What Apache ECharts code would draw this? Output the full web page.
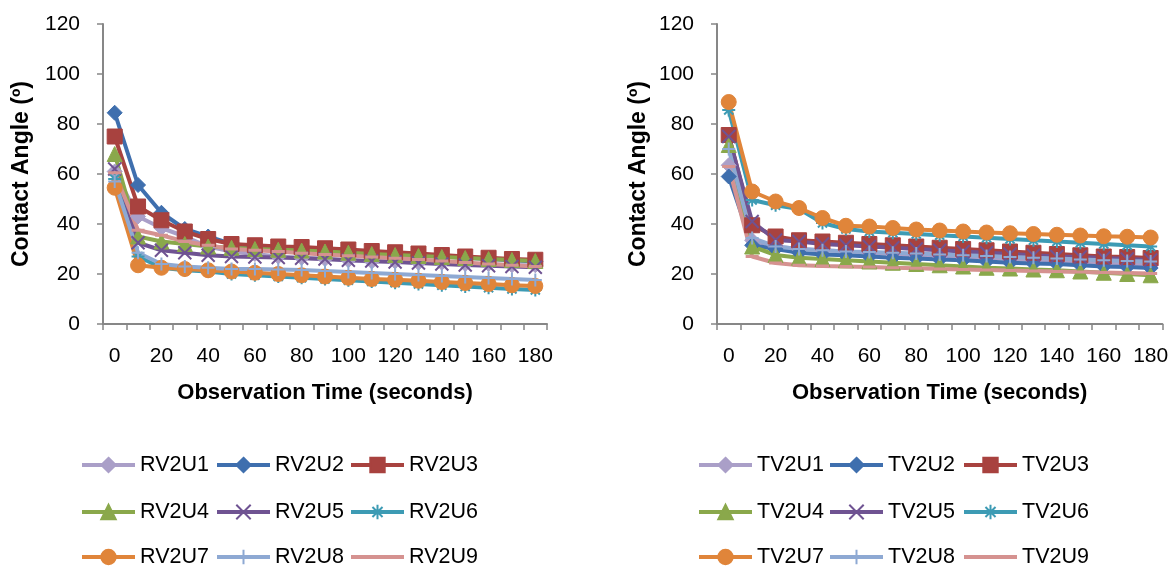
<!DOCTYPE html>
<html>
<head>
<meta charset="utf-8">
<script src="https://cdn.jsdelivr.net/npm/echarts@6/dist/echarts.min.js"></script>
<style>
  html, body { margin: 0; padding: 0; background: #fff; }
  #chart { width: 1171px; height: 572px; }
</style>
</head>
<body>
<div id="chart"></div>
<script>
// observation times (seconds)
const times = ["0", "10", "20", "30", "40", "50", "60", "70", "80", "90", "100", "110", "120", "130", "140", "150", "160", "170", "180"];
const yTicks = [0, 20, 40, 60, 80, 100, 120];

// left panel: RV2 samples
const rvNames = ["RV2U1", "RV2U2", "RV2U3", "RV2U4", "RV2U5", "RV2U6", "RV2U7", "RV2U8", "RV2U9"];
const rv2u1 = [61, 43, 38.4, 35, 31, 29, 28, 27, 26.5, 26, 25.5, 25, 25, 24.5, 24.5, 24, 24, 23.5, 23.5];
const rv2u2 = [84.5, 55.6, 44.5, 38, 35, 32, 31, 30.5, 30, 29.5, 29, 28.5, 28, 27.5, 27, 26.5, 26, 25.5, 25];
const rv2u3 = [75, 47, 41.5, 37, 34, 32, 31.5, 31, 30.8, 30.3, 29.8, 29.2, 28.7, 28.2, 27.6, 27, 26.5, 26, 25.7];
const rv2u4 = [68, 35, 33, 32, 31, 30.5, 30, 29.7, 29.4, 29, 28.5, 28, 27.6, 27.2, 26.8, 26.4, 26, 25.6, 25.2];
const rv2u5 = [62, 32.5, 29.5, 28.5, 27.5, 27, 26.8, 26.6, 26.3, 26, 25.5, 25.2, 24.8, 24.4, 24, 23.6, 23.3, 23, 22.7];
const rv2u6 = [58, 27, 22.5, 21.5, 21, 20, 19.5, 19, 18.5, 18, 17.5, 17, 16.5, 16, 15.5, 15, 14.5, 14, 13.6];
const rv2u7 = [54.5, 23.5, 22.5, 22, 21.5, 21, 20.5, 20, 19.5, 19, 18.5, 18, 17.7, 17.3, 16.8, 16.4, 16, 15.5, 15.2];
const rv2u8 = [57, 28.5, 24, 23, 22.5, 22, 22, 21.8, 21.6, 21.2, 20.8, 20.4, 20, 19.6, 19.2, 18.8, 18.4, 18, 17.6];
const rv2u9 = [60.5, 37.5, 35.5, 33, 31.5, 30, 29.5, 29, 28.3, 27.8, 27.3, 26.8, 26.3, 25.8, 25.2, 24.6, 24, 23.5, 23];

// right panel: TV2 samples
const tvNames = ["TV2U1", "TV2U2", "TV2U3", "TV2U4", "TV2U5", "TV2U6", "TV2U7", "TV2U8", "TV2U9"];
const tv2u1 = [63.5, 33.5, 31, 30, 29.5, 29, 28.5, 28, 27.5, 27, 26.8, 26.5, 26, 25.5, 25.2, 25, 24.5, 24, 23.5];
const tv2u2 = [59, 31.5, 30, 28.5, 27.8, 27.5, 27, 26.5, 26.2, 25.8, 25.5, 25, 24.5, 24.2, 24, 23.5, 23, 22.8, 22.4];
const tv2u3 = [75.6, 39.5, 35, 33.5, 33, 32.5, 32, 31.5, 31, 30.5, 30, 29.5, 29, 28.5, 28, 27.5, 27, 26.8, 26.4];
const tv2u4 = [71.6, 31, 27.6, 26.5, 26, 25.5, 25, 24.5, 24, 23.5, 23, 22.5, 22.2, 21.8, 21.5, 21, 20.5, 20, 19.5];
const tv2u5 = [75, 41, 33.6, 33, 32, 31.5, 31, 30.5, 30, 29.5, 29, 28.5, 28, 27.5, 27, 26.8, 26.4, 26, 25.6];
const tv2u6 = [85.6, 49.6, 47.5, 46, 40.4, 38, 37, 36.5, 36, 35.5, 35, 34.5, 34, 33.5, 33, 32.5, 32, 31.5, 31];
const tv2u7 = [88.8, 53, 49, 46.4, 42.4, 39.3, 39, 38.4, 37.8, 37.4, 37, 36.6, 36.3, 36, 35.7, 35.4, 35.1, 34.9, 34.6];
const tv2u8 = [70, 34.4, 31, 30, 29.5, 29, 28.8, 28.5, 28.2, 27.8, 27.5, 27.2, 26.8, 26.5, 26.2, 25.8, 25.5, 25.2, 25];
const tv2u9 = [63, 27, 24.4, 23.5, 23.2, 23, 22.8, 22.5, 22.3, 22, 21.8, 21.6, 21.4, 21.2, 21, 20.8, 20.6, 20.4, 20.2];

const rvData = [rv2u1, rv2u2, rv2u3, rv2u4, rv2u5, rv2u6, rv2u7, rv2u8, rv2u9];
const tvData = [tv2u1, tv2u2, tv2u3, tv2u4, tv2u5, tv2u6, tv2u7, tv2u8, tv2u9];

// excel-ish palette and markers, one per sample number
const colors = ["#AA9FC8", "#3F6FAE", "#A8423F", "#8AA84B", "#6F5392", "#3D9BB4", "#E0853A", "#8EA9D3", "#D59290"];
const symbols = [
  "diamond", "diamond", "rect", "triangle",
  "path://M0,0L10,10M10,0L0,10",
  "path://M5,0L5,10M0,5L10,5M1.5,1.5L8.5,8.5M8.5,1.5L1.5,8.5",
  "circle",
  "path://M5,0L5,10M0,5L10,5",
  // short dash; two tiny corner specks keep the box square so it isn't stretched
  "path://M0,0L0.01,0L0,0.01Z M9.99,10L10,10L10,9.99Z M0,3.8L10,3.8L10,6.2L0,6.2Z"
];
const stroked = [false, false, false, false, true, true, false, true, false];
const sizes = [15, 15, 15, 15, 13, 13, 15, 13, 13];

const font = "'Liberation Sans', Arial, sans-serif";

function makeSeries(names, data, idx) {
  return names.map((name, i) => ({
    name: name,
    type: "line",
    xAxisIndex: idx,
    yAxisIndex: idx,
    data: data[i],
    symbol: symbols[i],
    symbolSize: sizes[i],
    showAllSymbol: true,
    lineStyle: { color: colors[i], width: 4 },
    itemStyle: {
      color: stroked[i] ? "none" : colors[i],
      borderColor: colors[i],
      borderWidth: stroked[i] ? 2 : (i === 8 ? 0 : 1)
    },
    emphasis: { disabled: true }
  }));
}

// one legend per entry so the 3x3 block sits where it should
function makeLegends(names, cols) {
  const rows = [465, 512, 557];
  return names.map((name, i) => ({
    data: [name],
    left: cols[i % 3],
    top: rows[Math.floor(i / 3)] - 11,
    padding: 0,
    itemWidth: 53,
    itemHeight: 18,
    selectedMode: false,
    lineStyle: { width: 4 },
    textStyle: { fontSize: 21.5, lineHeight: 22, color: "#000", fontFamily: font }
  }));
}

function xAxis(idx) {
  return {
    type: "category",
    gridIndex: idx,
    data: times,
    boundaryGap: true,
    name: "Observation Time (seconds)",
    nameLocation: "middle",
    nameGap: 58,
    nameTextStyle: { fontSize: 22, fontWeight: "bold", color: "#000", fontFamily: font },
    axisLine: { lineStyle: { color: "#878787", width: 2 } },
    axisTick: { show: true, interval: 0, length: 6, lineStyle: { color: "#878787", width: 1.5 } },
    axisLabel: { interval: 1, margin: 22, fontSize: 21, color: "#000", fontFamily: font },
    splitLine: { show: false }
  };
}

function yAxis(idx, gap) {
  return {
    type: "value",
    gridIndex: idx,
    min: yTicks[0],
    max: yTicks[yTicks.length - 1],
    interval: 20,
    name: "Contact Angle (º)",
    nameLocation: "middle",
    nameGap: gap,
    nameTextStyle: { fontSize: 23, fontWeight: "bold", color: "#000", fontFamily: font },
    axisLine: { show: true, lineStyle: { color: "#878787", width: 2 } },
    axisTick: { show: true, length: 6, lineStyle: { color: "#878787", width: 1.5 } },
    axisLabel: { margin: 23, fontSize: 21, color: "#000", fontFamily: font },
    splitLine: { show: false }
  };
}

const chart = echarts.init(document.getElementById("chart"), null, { renderer: "canvas" });
chart.setOption({
  animation: false,
  backgroundColor: "#fff",
  grid: [
    { left: 103, right: 624, top: 24, bottom: 248 },
    { left: 717, right: 2, top: 24, bottom: 248 }
  ],
  xAxis: [xAxis(0), xAxis(1)],
  yAxis: [yAxis(0, 70), yAxis(1, 67)],
  legend: makeLegends(rvNames, [80, 215, 349]).concat(makeLegends(tvNames, [697, 828, 962])),
  series: makeSeries(rvNames, rvData, 0).concat(makeSeries(tvNames, tvData, 1))
});
</script>
</body>
</html>
